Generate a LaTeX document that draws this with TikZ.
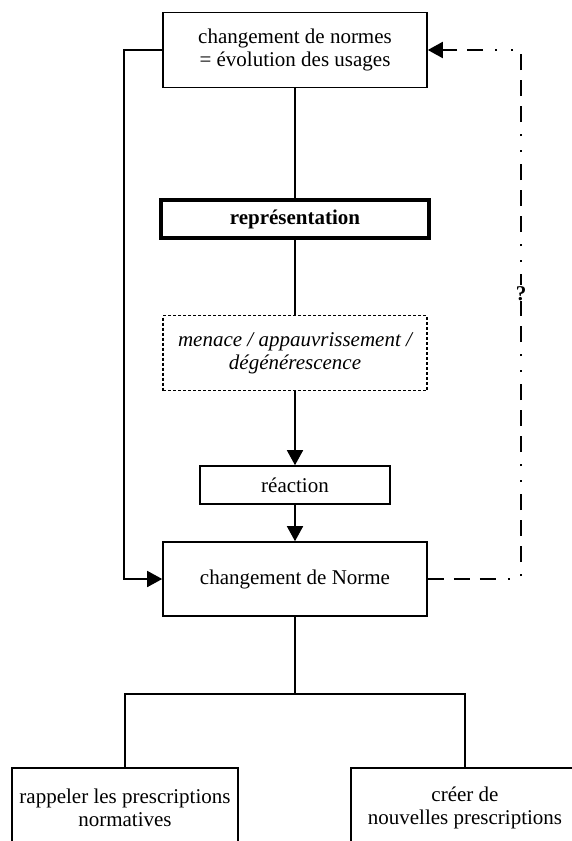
\documentclass[tikz,border=0pt]{standalone}
\usepackage{fontspec}
\setmainfont{Liberation Serif}
\usetikzlibrary{arrows.meta}
\newcommand\diagfont{\fontsize{21}{23}\selectfont}
\tikzstyle{block} = [draw, rectangle, line width=1.6pt, inner sep=0pt,
    minimum width=264pt, minimum height=75pt, align=center, font=\diagfont]
\tikzstyle{thickblock} = [block, line width=4.5pt, minimum width=268pt,
    minimum height=38pt, font=\diagfont\bfseries]
\tikzstyle{dotblock} = [block, dash pattern=on 3pt off 2pt, line width=1.4pt,
    font=\diagfont\itshape]
\tikzstyle{smallblock} = [block, minimum width=190pt, minimum height=38pt]
\tikzstyle{leafblock} = [block, minimum width=226pt, minimum height=80pt]
\tikzstyle{feedback} = [line width=2pt, dash pattern=on 16pt off 10pt on 16pt off 10pt on 16pt off 12pt on 2pt off 14pt on 2pt off 12pt]

\begin{document}
\begin{tikzpicture}[x=1pt,y=1pt,line width=1.6pt,>={Triangle[length=15pt,width=16pt]}]
    \useasboundingbox (0,0) rectangle (571,-841);
    \node [block] (normes) at (295,-50) {changement de normes\\= évolution des usages};
    \node [thickblock, below of=normes, node distance=169pt] (repr) {représentation};
    \node [dotblock, below of=repr, node distance=134pt] (menace) {menace / appauvrissement /\\dégénérescence};
    \node [smallblock, below of=menace, node distance=132pt] (reaction) {réaction};
    \node [block, below of=reaction, node distance=94pt, minimum height=74pt] (norme) {changement de Norme};
    \node [leafblock, below of=norme, node distance=229pt, xshift=-170pt] (rappel) {rappeler les prescriptions\\normatives};
    \node [leafblock, below of=norme, node distance=229pt, xshift=170pt, minimum width=228pt] (creer) {créer de\\nouvelles prescriptions};
    \draw (normes) -- (repr);
    \draw (repr) -- (menace);
    \draw [->] (menace) -- (reaction);
    \draw [->] (reaction) -- (norme);
    \draw [->] (normes.west) -- ++(-38,0) |- (norme.west);
    \draw [->,feedback] (norme.east) -- ++(93.2,0) |- node [pos=0.27, fill=white, inner sep=1pt, font=\diagfont\bfseries] {?} (normes.east);
    \draw (norme.south) -- ++(0,-77) -| (rappel.north);
    \draw (norme.south) ++(0,-77) -| (creer.north);
\end{tikzpicture}
\end{document}
